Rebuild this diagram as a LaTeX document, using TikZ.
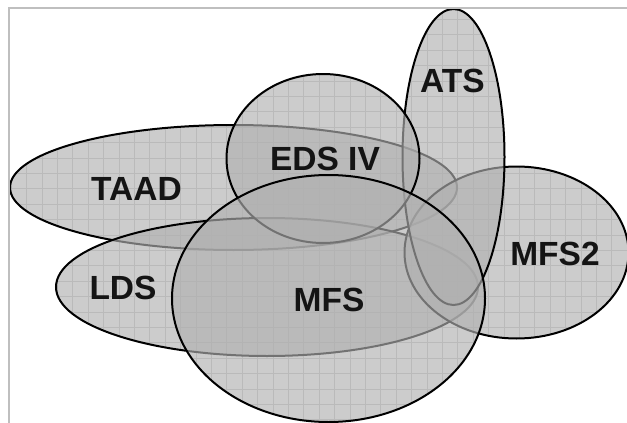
\documentclass[tikz,border=0pt]{standalone}
\usepackage{fontspec}
\usepackage{tikz}
\usetikzlibrary{positioning}
\newfontfamily\labelfont{Liberation Sans}
\tikzstyle{setshape}=[draw=black,line width=2pt,fill=black!31,fill opacity=0.65]
\tikzstyle{gridline}=[draw=black!19,line width=1pt]
\tikzstyle{frameline}=[draw=black!25,line width=1.5pt]
\tikzstyle{setlabel}=[font=\labelfont\bfseries\fontsize{33.5}{36}\selectfont,inner sep=0pt,text=black!92]

\begin{document}
\begin{tikzpicture}[x=1pt,y=-1pt]
    \useasboundingbox (0,0) rectangle (627,423);

    % The sets: name/centre x/centre y/x radius/y radius, drawn bottom first
    \def\setlist{TAAD/233.5/187.5/223.5/62.5, LDS/267/287/211/69, MFS2/516.5/252.5/112/86, ATS/453.5/157/51/148, EDS/323/158.5/96.5/84.5, MFS/328.5/298.5/156.5/123.5}

    % First we draw the grid, only inside the sets
    \begin{scope}
        \clip \foreach \name/\cx/\cy/\rx/\ry in \setlist {(\cx,\cy) ellipse [x radius=\rx pt, y radius=\ry pt]};
        \foreach \i in {0,...,40}
            \path[gridline] (11.3+15.4*\i,0) -- (11.3+15.4*\i,423);
        \foreach \j in {0,...,27}
            \path[gridline] (0,4.1+15.4*\j) -- (627,4.1+15.4*\j);
    \end{scope}

    % Then the sets, each one over the ones before it
    \foreach \name/\cx/\cy/\rx/\ry in \setlist
        \path[setshape] (\cx,\cy) ellipse [x radius=\rx pt, y radius=\ry pt];

    % Chart frame
    \path[frameline] (9,423) -- (9,8) -- (627,8);

    % Labels
    \foreach \pos/\name/\label in {{(136.5,188.5)/taad/TAAD}, {(123,287.5)/lds/LDS}, {(555,254)/mfstwo/MFS2}, {(452.5,80.5)/ats/ATS}, {(325,158.5)/eds/EDS IV}, {(329,299.5)/mfs/MFS}}
        \node[setlabel] (\name) at \pos {\label};

\end{tikzpicture}
\end{document}
